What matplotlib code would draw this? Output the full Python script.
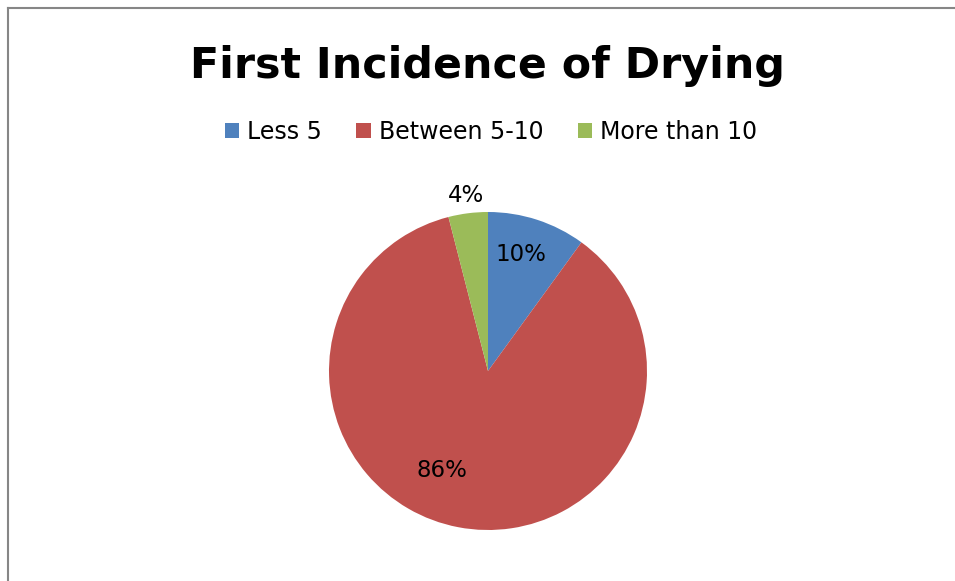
import matplotlib.pyplot as plt
from matplotlib.lines import Line2D
import numpy as np

# -------------------------
# Data
# -------------------------
categories = ["Less 5", "Between 5-10", "More than 10"]
shares = [10, 86, 4]
colors = ["#4F81BD", "#C0504D", "#9BBB59"]
title = "First Incidence of Drying"

# label placement (radius as fraction of pie radius, angle shift in degrees)
label_radius = [0.76, 0.69, 1.11]
label_shift = [-2, 14, 0]

W, H = 955, 581
fig = plt.figure(figsize=(W / 100, H / 100), dpi=100)
plt.rcParams["font.family"] = ["DejaVu Sans"]

# pie axes: centre (488, 371) px, radius 159 px
cx, cy, r = 488, 371, 159
ax = fig.add_axes([(cx - r) / W, (H - cy - r) / H, 2 * r / W, 2 * r / H])
wedges, _ = ax.pie(shares, colors=colors, startangle=90, counterclock=False,
                   radius=1.0, wedgeprops=dict(linewidth=0))
ax.set_xlim(-1, 1)
ax.set_ylim(-1, 1)
ax.set_aspect("equal")
ax.axis("off")

total = sum(shares)
for w, v, rr, sh in zip(wedges, shares, label_radius, label_shift):
    mid = np.deg2rad((w.theta1 + w.theta2) / 2 - sh)
    ax.text(rr * np.cos(mid), rr * np.sin(mid), f"{round(100 * v / total)}%",
            ha="center", va="center", fontsize=16.5, color="black")

# title
fig.text(487 / W, 1 - 78 / H, title, ha="center", va="baseline",
         fontsize=30.8, fontweight="bold")

# legend
leg = fig.legend(wedges, categories, loc="center", bbox_to_anchor=(491 / W, 1 - 132 / H),
                 ncol=3, frameon=False, fontsize=17, handlelength=0.6, handleheight=0.6,
                 handletextpad=0.34, columnspacing=1.45)

# border (left and top edges visible)
fig.add_artist(Line2D([8 / W, 8 / W], [0, 1 - 8 / H], color="#868686", linewidth=1.5,
                      transform=fig.transFigure))
fig.add_artist(Line2D([8 / W, 1], [1 - 8 / H, 1 - 8 / H], color="#868686", linewidth=1.5,
                      transform=fig.transFigure))

fig.savefig("out.png", dpi=100)
